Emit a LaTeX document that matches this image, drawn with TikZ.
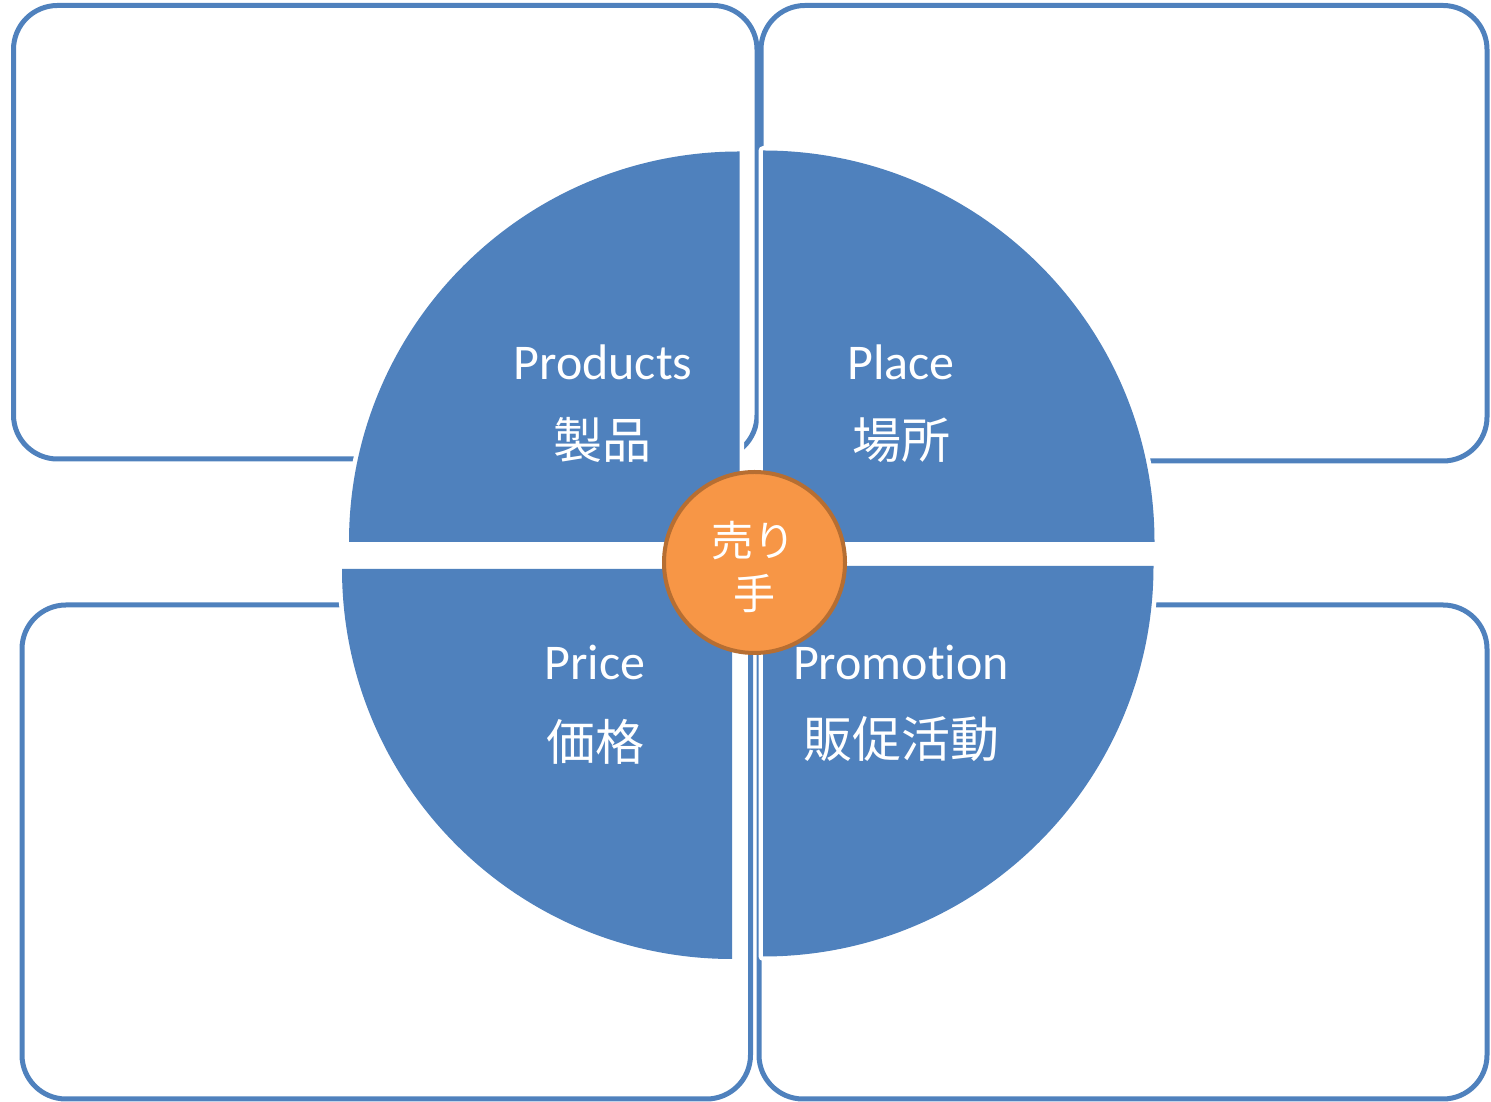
\documentclass[tikz,border=0pt]{standalone}
\usepackage{fontspec}
\setmainfont{Carlito}[Ligatures=NoCommon]
\newfontfamily\jp{Noto Sans CJK JP}
\definecolor{sblue}{RGB}{79,129,189}
\definecolor{sorange}{RGB}{247,150,70}
\definecolor{sbrown}{RGB}{182,110,50}
\tikzset{
  panel/.style={draw=sblue, line width=5pt, rounded corners=44pt},
  halo/.style={draw=white, line width=9pt, line join=round},
  sector/.style={fill=sblue},
  latin/.style={text=white, font=\fontsize{50}{60}\selectfont, anchor=base, inner sep=0pt},
  kanji/.style={text=white, font=\jp\fontsize{49}{58}\selectfont, anchor=base, inner sep=0pt},
  hub/.style={circle, fill=sorange, draw=sbrown, line width=4pt, minimum size=181pt, inner sep=0pt},
  hubtext/.style={text=white, font=\jp\fontsize{42}{48}\selectfont, anchor=base, inner sep=0pt}
}
\begin{document}
\begin{tikzpicture}[x=1pt,y=1pt]
\useasboundingbox (0,0) rectangle (1491,1102);
% outer panels
\draw[panel] (13.5,643) rectangle (757,1096.5);
\draw[panel] (761,641) rectangle (1487,1096.5);
\draw[panel] (22,3) rectangle (750.5,497);
\draw[panel] (759,3) rectangle (1487,497);
% quarter sectors: white halo then fill
\def\secTL{(739.5,560) -- ++(0,390.5) arc[start angle=90,end angle=180,radius=390.5] -- cycle}
\def\secTR{(763,560) -- ++(391.5,0) arc[start angle=0,end angle=90,radius=391.5] -- cycle}
\def\secBL{(732,533) -- ++(-390,0) arc[start angle=180,end angle=270,radius=390] -- cycle}
\def\secBR{(763,536) -- ++(0,-390.5) arc[start angle=270,end angle=360,radius=390.5] -- cycle}
\draw[halo] \secTL; \fill[sector] \secTL;
\draw[halo] \secTR; \fill[sector] \secTR;
\draw[halo] \secBL; \fill[sector] \secBL;
\draw[halo] \secBR; \fill[sector] \secBR;
% labels
\node[latin] (prodEn) at (603,722) {Products};
\node[kanji] (prodJp) at (602,643) {製品};
\node[latin] (placeEn) at (901,722) {Place};
\node[kanji] (placeJp) at (901,643) {場所};
\node[latin] (priceEn) at (595,422) {Price};
\node[kanji] (priceJp) at (595,341) {価格};
\node[latin] (promoEn) at (901,422) {Promotion};
\node[kanji] (promoJp) at (901,344) {販促活動};
% hub
\node[hub] (hub) at (754.5,539.5) {};
\node[hubtext] (hub1) at (753,545) {売り};
\node[hubtext] (hub2) at (754,492) {手};
\end{tikzpicture}
\end{document}
